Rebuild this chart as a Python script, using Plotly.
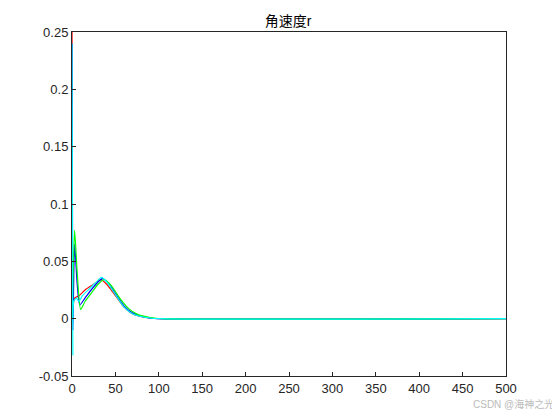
import plotly.graph_objects as go

t_red = [0, 0.5, 1, 3, 8, 15, 25, 33, 40, 50, 60, 70, 85, 100, 500]
r_red = [0.25, 0.1, 0.01, 0.018, 0.02, 0.025, 0.03, 0.034, 0.03, 0.02, 0.01, 0.004, 0.001, 0, 0]

t_blue = [0, 0.5, 1, 3, 6, 9, 15, 22, 30, 35, 42, 50, 60, 70, 85, 100, 500]
r_blue = [0.24, 0.1, -0.01, 0.065, 0.03, 0.012, 0.018, 0.025, 0.032, 0.035, 0.031, 0.022, 0.011, 0.005, 0.001, 0, 0]

t_green = [0, 1, 3, 6, 10, 15, 22, 30, 37, 45, 55, 65, 75, 90, 105, 500]
r_green = [0, 0.03, 0.077, 0.04, 0.008, 0.015, 0.022, 0.03, 0.034, 0.029, 0.018, 0.009, 0.004, 0.001, 0, 0]

t_cyan = [0, 0.5, 1, 2, 5, 8, 12, 20, 28, 34, 40, 50, 60, 70, 85, 100, 500]
r_cyan = [0.24, 0.1, -0.032, 0.015, 0.018, 0.015, 0.02, 0.026, 0.032, 0.036, 0.032, 0.021, 0.01, 0.004, 0.001, 0, 0]

fig = go.Figure()
for t, r, c in [(t_red, r_red, "red"), (t_blue, r_blue, "blue"),
                (t_green, r_green, "#00ff00"), (t_cyan, r_cyan, "cyan")]:
    fig.add_trace(go.Scatter(x=t, y=r, mode="lines", line=dict(color=c, width=1.2, shape="spline", smoothing=0.6)))

axis = dict(showgrid=False, zeroline=False, showline=True, linecolor="#262626", mirror=True,
            ticks="inside", ticklen=4, tickcolor="#262626", tickfont=dict(size=13, color="#262626"))
fig.update_layout(
    title=dict(text="角速度r", x=0.5, y=0.98, xanchor="center", font=dict(size=14, color="#000")),
    width=560, height=420, showlegend=False,
    margin=dict(l=64, r=62, t=24, b=52),
    paper_bgcolor="white", plot_bgcolor="white",
    font=dict(family="Liberation Sans, Noto Sans CJK SC"),
    xaxis=dict(axis, range=[0, 500], tickvals=list(range(0, 501, 50))),
    yaxis=dict(axis, range=[-0.05, 0.25], tickvals=[-0.05, 0, 0.05, 0.1, 0.15, 0.2, 0.25],
               ticktext=["-0.05", "0", "0.05", "0.1", "0.15", "0.2", "0.25"]),
)
fig.add_annotation(text="CSDN @海神之光", x=1, y=0, xref="paper", yref="paper", xshift=50, yshift=-36,
                   showarrow=False, xanchor="right", font=dict(size=10, color="#bbb"))
fig.write_html("out.html")
